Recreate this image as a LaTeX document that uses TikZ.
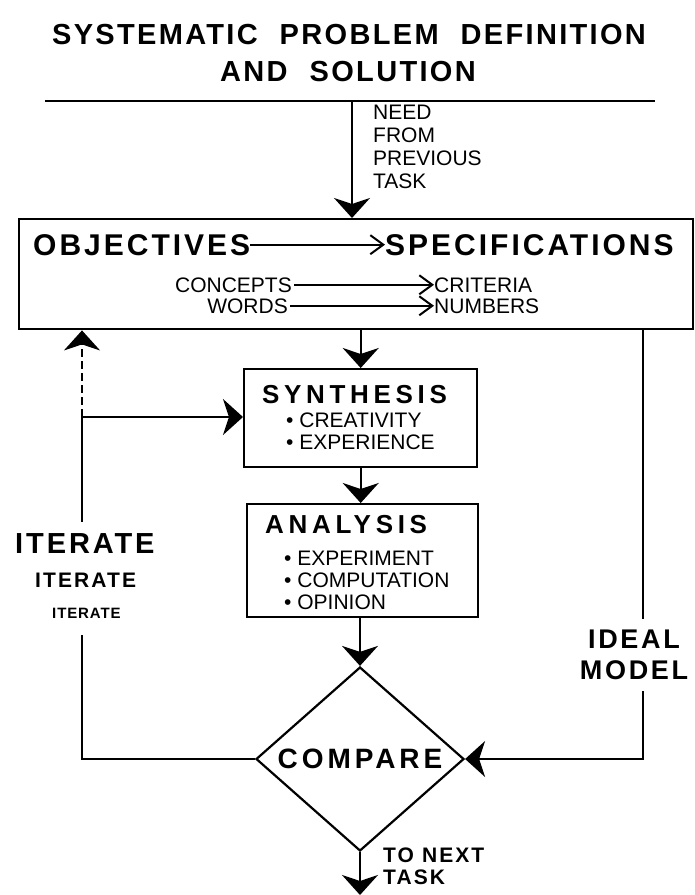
\documentclass[tikz,border=0pt]{standalone}
\usepackage{fontspec}
\setmainfont{Liberation Sans}
\newfontfamily\lsSix{Liberation Sans}[LetterSpace=6]
\newfontfamily\lsEight{Liberation Sans}[LetterSpace=8]
\newfontfamily\lsTen{Liberation Sans}[LetterSpace=10]
\newfontfamily\lsFourteen{Liberation Sans}[LetterSpace=14]
\newfontfamily\lsEighteen{Liberation Sans}[LetterSpace=18]
\usetikzlibrary{arrows.meta,shapes.geometric}

% type sizes
\newcommand\fTitle{\lsEight\bfseries\fontsize{29}{33}\selectfont}
\newcommand\fHead{\lsTen\bfseries\fontsize{30}{33}\selectfont}
\newcommand\fStep{\lsEighteen\bfseries\fontsize{26}{29}\selectfont}
\newcommand\fCmp{\lsFourteen\bfseries\fontsize{28}{31}\selectfont}
\newcommand\fIdeal{\lsTen\bfseries\fontsize{27}{31}\selectfont}
\newcommand\fRegular{\fontsize{21}{23}\selectfont}
\newcommand\fTask{\lsTen\bfseries\fontsize{21}{22}\selectfont}

\begin{document}
\begin{tikzpicture}[x=1pt,y=-1pt,
  ln/.style={line width=2pt},
  frame/.style={draw, line width=2.4pt, inner sep=0pt},
  txt/.style={inner sep=0pt, anchor=base west},
  bigtip/.style={-{Stealth[length=20pt,width=36pt,inset=6pt]}},
  barb/.style={-{Straight Barb[length=13pt,width=19pt,line width=2pt]}},
]
\useasboundingbox (0,0) rectangle (695,895);

% heading
\node[inner sep=0pt, anchor=base] (title1) at (349,44)
  {\fTitle SYSTEMATIC\hspace{22pt}PROBLEM\hspace{22pt}DEFINITION};
\node[inner sep=0pt, anchor=base] (title2) at (348,81)
  {\fTitle AND\hspace{22pt}SOLUTION};
\coordinate (ruleL) at (45,101);
\coordinate (ruleR) at (655,101);
\draw[line width=2.5pt] (ruleL) -- (ruleR);

% incoming need
\coordinate (need) at (352,100);
\node[inner sep=0pt, anchor=north west, align=left, font=\fRegular] (needtxt) at (373,105)
  {NEED\\FROM\\PREVIOUS\\TASK};

% objectives / specifications box
\node[frame, anchor=north west, minimum width=674pt, minimum height=110pt] (specbox) at (18,218) {};
\node[txt] (obj) at (33,255) {\fHead OBJECTIVES};
\node[txt] (specs) at (385,255) {\fHead SPECIFICATIONS};
\node[txt, anchor=base east] (concepts) at (292,292) {\fRegular CONCEPTS};
\node[txt, anchor=base east] (words) at (288,313) {\fRegular WORDS};
\node[txt] (criteria) at (434,292) {\fRegular CRITERIA};
\node[txt] (numbers) at (434,313) {\fRegular NUMBERS};

% synthesis
\node[frame, anchor=north west, minimum width=233pt, minimum height=98pt] (syn) at (243,368) {};
\node[txt] (syntitle) at (262,403) {\fStep SYNTHESIS};
\node[txt] (syn1) at (286,427) {\fRegular\textbullet\ CREATIVITY};
\node[txt] (syn2) at (286,449) {\fRegular\textbullet\ EXPERIENCE};

% analysis
\node[frame, anchor=north west, minimum width=231pt, minimum height=113pt] (ana) at (246,503) {};
\node[txt] (anatitle) at (265,533) {\fStep ANALYSIS};
\node[txt] (ana1) at (284,565) {\fRegular\textbullet\ EXPERIMENT};
\node[txt] (ana2) at (284,587) {\fRegular\textbullet\ COMPUTATION};
\node[txt] (ana3) at (284,609) {\fRegular\textbullet\ OPINION};

% compare
\node[diamond, draw, line width=2.2pt, inner sep=0pt, aspect=1.13,
      minimum width=208pt, minimum height=184pt] (cmp) at (360,759) {\fCmp COMPARE};

% side labels
\node[inner xsep=0pt, inner ysep=11pt, anchor=north, align=center, font=\fIdeal] (ideal) at (634,619)
  {IDEAL\\MODEL};
\node[txt] (it1) at (15,553) {\lsTen\bfseries\fontsize{29}{31}\selectfont ITERATE};
\node[txt] (it2) at (35,587) {\lsTen\bfseries\fontsize{21}{23}\selectfont ITERATE};
\node[txt] (it3) at (52,618) {\lsSix\bfseries\fontsize{15}{17}\selectfont ITERATE};
\node[txt] (nexttxt) at (383,862) {\fTask TO NEXT};
\node[txt] (tasktxt) at (383,884) {\fTask TASK};

% loop coordinates
\coordinate (rtop) at (643,328);
\coordinate (ljoin) at (82,417);
\coordinate (lgapA) at (82,522);
\coordinate (lgapB) at (82,635);
\coordinate (nexttask) at (360,895);

% connectors
\draw[ln, bigtip] (need) -- (need |- specbox.north);
\draw[ln, barb] (obj.east) -- (specs.west);
\draw[line width=1.8pt, barb] ([xshift=2pt]concepts.east) -- (criteria.west);
\draw[line width=1.8pt, barb] ([xshift=2pt]words.east) -- (numbers.west);
\draw[ln, bigtip] (syn.north |- specbox.south) -- (syn.north);
\draw[ln, bigtip] (syn.south) -- (syn.south |- ana.north);
\draw[ln, bigtip] (cmp.north |- ana.south) -- (cmp.north);
\draw[ln, bigtip] (cmp.south) -- (nexttask);
\draw[ln] (rtop) -- (rtop |- ideal.north);
\draw[ln, bigtip] (rtop |- ideal.south) |- (cmp.east);
\draw[ln, bigtip] (ljoin) -- (ljoin -| syn.west);
\draw[ln, dash pattern=on 8pt off 4pt, bigtip] (ljoin) -- (ljoin |- specbox.south);
\draw[ln] (ljoin) -- (lgapA);
\draw[ln] (lgapB) |- (cmp.west);
\end{tikzpicture}
\end{document}
